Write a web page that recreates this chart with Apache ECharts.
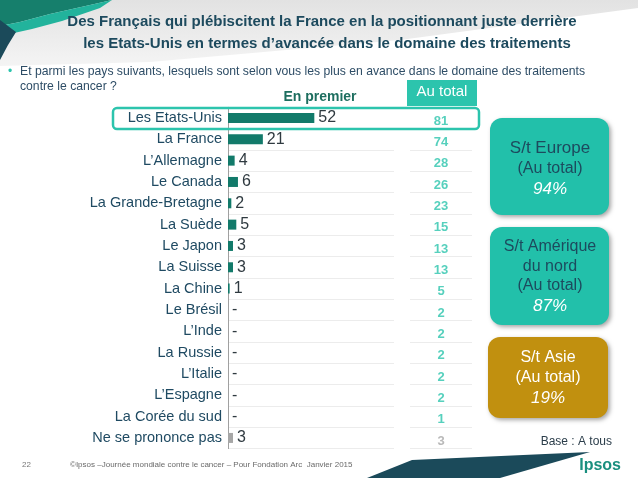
<!DOCTYPE html>
<html><head><meta charset="utf-8">
<script src="https://cdn.jsdelivr.net/npm/echarts@6/dist/echarts.min.js"></script>
<style>html,body{margin:0;padding:0;background:#fff;}#c{width:638px;height:478px;}</style>
</head><body><div id="c"></div>
<script>
const categories = ["Les Etats-Unis","La France","L’Allemagne","Le Canada","La Grande-Bretagne","La Suède","Le Japon","La Suisse","La Chine","Le Brésil","L’Inde","La Russie","L’Italie","L’Espagne","La Corée du sud","Ne se prononce pas"];
const enPremier = [52,21,4,6,2,5,3,3,1,0,0,0,0,0,0,3];
const auTotal = [81,74,28,26,23,15,13,13,5,2,2,2,2,2,1,3];
const boxLabels = [["S/t Europe","(Au total)"],["S/t Amérique","du nord","(Au total)"],["S/t Asie","(Au total)"]];
const boxValues = [94,87,19];

const FONT = "'Liberation Sans', Arial, sans-serif";
const chart = echarts.init(document.getElementById('c'), null, {renderer:'canvas'});
const nsp = categories.length - 1;

function txt(text, x, y, font, fill, align, extra){
  return Object.assign({type:'text', z:10, style:{text:text, x:x, y:y, font:font, fill:fill, textAlign:align||'left', textVerticalAlign:'middle'}}, extra||{});
}

const graphics = [
  // top grey band
  {type:'polygon', z:0, shape:{points:[[0,0],[638,0],[638,8],[400,40],[150,62],[0,66]]},
   style:{fill:new echarts.graphic.LinearGradient(0,0,0,1,[{offset:0,color:'#e2e2e2'},{offset:1,color:'#f4f4f4'}])}},
  // top-left decorations
  {type:'polygon', z:1, shape:{points:[[0,0],[112,0],[90,5],[50,14],[20,22],[0,26]]}, style:{fill:'#167f6c'}},
  {type:'polygon', z:1, shape:{points:[[0,26],[20,22],[50,14],[90,5],[112,0],[100,8],[62,21],[32,29],[14,33],[0,34]]}, style:{fill:'#22b39c'}},
  {type:'polygon', z:2, shape:{points:[[0,20],[16,32],[8,45],[0,60]]}, style:{fill:'#1b4a5a'}},
  // bottom dark swoosh
  {type:'polygon', z:1, shape:{points:[[367,478],[412,460],[590,452],[500,478]]}, style:{fill:'#1b4a5a'}},
  // title
  txt('Des Français qui plébiscitent la France en la positionnant juste derrière', 322, 22, 'bold 15px '+FONT, '#1d4a5e', 'center'),
  txt('les Etats-Unis en termes d’avancée dans le domaine des traitements', 327, 44, 'bold 15px '+FONT, '#1d4a5e', 'center'),
  // subtitle
  txt('•', 8, 72, '12px '+FONT, '#2cc4ad'),
  txt('Et parmi les pays suivants, lesquels sont selon vous les plus en avance dans le domaine des traitements', 20, 72, '12.2px '+FONT, '#2e4d66'),
  txt('contre le cancer ?', 20, 87, '12.2px '+FONT, '#2e4d66'),
  // column headers
  txt('En premier', 320, 97, 'bold 14px '+FONT, '#1d6e5f', 'center'),
  {type:'rect', z:5, shape:{x:407, y:80, width:70, height:26}, style:{fill:'#2cc4ad'}},
  txt('Au total', 442, 92, '15px '+FONT, '#ffffff', 'center'),
  // highlight rectangle
  {type:'rect', z:20, shape:{x:113, y:108, width:366, height:21, r:4}, style:{fill:'none', stroke:'#2cc4ad', lineWidth:2.5}},
  // boxes
  {type:'rect', z:5, shape:{x:490, y:118, width:119, height:97, r:12}, style:{fill:'#22c0aa', shadowBlur:4, shadowColor:'rgba(0,0,0,0.35)', shadowOffsetX:2, shadowOffsetY:2}},
  {type:'rect', z:5, shape:{x:490, y:227, width:119, height:98, r:12}, style:{fill:'#22c0aa', shadowBlur:4, shadowColor:'rgba(0,0,0,0.35)', shadowOffsetX:2, shadowOffsetY:2}},
  {type:'rect', z:5, shape:{x:488, y:337, width:120, height:81, r:12}, style:{fill:'#c1900f', shadowBlur:4, shadowColor:'rgba(0,0,0,0.35)', shadowOffsetX:2, shadowOffsetY:2}},
  txt(boxLabels[0][0], 550, 148, '17px '+FONT, '#1d4a5e', 'center'),
  txt(boxLabels[0][1], 550, 169, '16px '+FONT, '#1d4a5e', 'center'),
  txt(boxValues[0]+'%', 550, 189, 'italic 17px '+FONT, '#ffffff', 'center'),
  txt(boxLabels[1][0], 550, 247, '16px '+FONT, '#1d4a5e', 'center'),
  txt(boxLabels[1][1], 550, 267, '16px '+FONT, '#1d4a5e', 'center'),
  txt(boxLabels[1][2], 550, 286, '16px '+FONT, '#1d4a5e', 'center'),
  txt(boxValues[1]+'%', 550, 306, 'italic 17px '+FONT, '#ffffff', 'center'),
  txt(boxLabels[2][0], 548, 358, '16px '+FONT, '#ffffff', 'center'),
  txt(boxLabels[2][1], 548, 378, '16px '+FONT, '#ffffff', 'center'),
  txt(boxValues[2]+'%', 548, 398, 'italic 17px '+FONT, '#ffffff', 'center'),
  // base + footer
  txt('Base : A tous', 612, 442, '12px '+FONT, '#2b3d4a', 'right'),
  txt('22', 22, 465, '8px '+FONT, '#777777'),
  txt('©Ipsos –Journée mondiale contre le cancer – Pour Fondation Arc  Janvier 2015', 70, 465, '8px '+FONT, '#6a6a6a'),
  txt('Ipsos', 621, 466, 'bold 16px '+FONT, '#1a8f7f', 'right')
];

const option = {
  animation:false,
  backgroundColor:'#ffffff',
  grid:[
    {left:228, top:107.3, width:166, height:341.3, containLabel:false},
    {left:410, top:107.3, width:62, height:341.3, containLabel:false}
  ],
  xAxis:[
    {gridIndex:0, type:'value', min:0, max:100, show:false},
    {gridIndex:1, type:'value', min:-1, max:1, show:false}
  ],
  yAxis:[
    {gridIndex:0, type:'category', data:categories, inverse:true,
     axisLine:{show:true, lineStyle:{color:'#a0a0a0', width:1}}, axisTick:{show:false},
     axisLabel:{color:'#1f4a62', fontSize:14.5, fontFamily:FONT, margin:6},
     splitLine:{show:true, lineStyle:{color:'#ececec', width:1}}},
    {gridIndex:1, type:'category', data:categories, inverse:true,
     axisLine:{show:false}, axisTick:{show:false}, axisLabel:{show:false},
     splitLine:{show:true, lineStyle:{color:'#ececec', width:1}}}
  ],
  series:[
    {type:'bar', xAxisIndex:0, yAxisIndex:0, barWidth:10,
     data: enPremier.map((v,i)=>({value:v, itemStyle:{color: i===nsp ? '#a6a6a6' : '#127a6a'}})),
     label:{show:true, position:'right', distance:4, color:'#2f3a40', fontSize:16, fontFamily:FONT,
       formatter: p => p.value === 0 ? '-' : String(p.value)}},
    {type:'scatter', xAxisIndex:1, yAxisIndex:1, symbolSize:0.01,
     data: auTotal.map((v,i)=>({value:[0, categories[i]], total:v,
        label:{color: i===nsp ? '#a8a8a8' : '#2cc4ad'}})),
     label:{show:true, position:'inside', offset:[0,3], fontSize:13, fontWeight:'bold', fontFamily:FONT,
       formatter: p => String(p.data.total)}}
  ],
  graphic: graphics
};
chart.setOption(option);
</script></body></html>
